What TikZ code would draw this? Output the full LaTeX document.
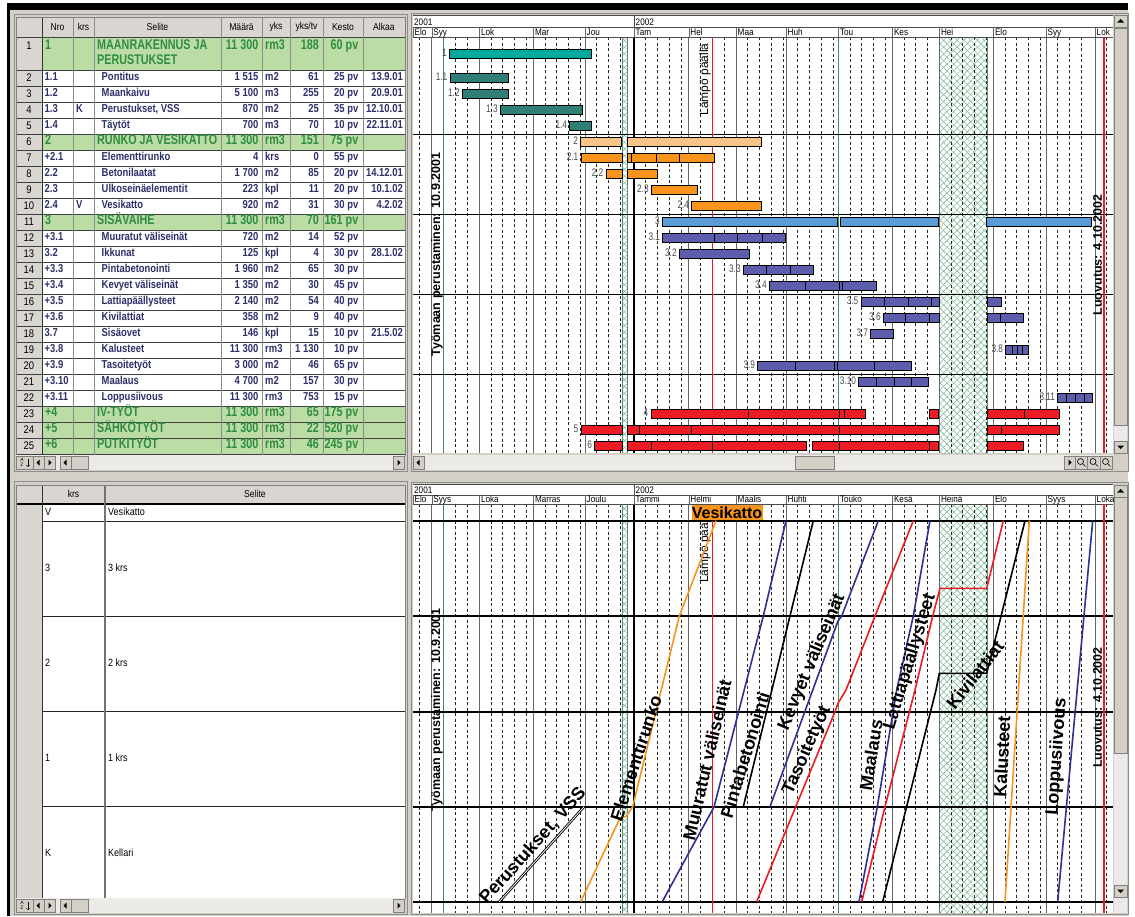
\documentclass[tikz,border=0pt]{standalone}
\usepackage{fontspec}
\setmainfont{Liberation Sans}
\newfontfamily\rowfont[FakeStretch=0.82]{Liberation Sans}
\newfontfamily\grpfont[FakeStretch=0.77]{Liberation Sans}
\newfontfamily\uifont[FakeStretch=0.86]{Liberation Sans}
\newfontfamily\lblfont[FakeStretch=0.75]{Liberation Sans}
\usepackage{xcolor}
\usepackage{tikz}
\usetikzlibrary{patterns.meta}

\definecolor{winbg}{HTML}{D4D0C8}
\definecolor{hdrgray}{HTML}{D9D6D1}
\definecolor{grpfill}{HTML}{BBDDA5}
\definecolor{grptext}{HTML}{2F8C3F}
\definecolor{rowtext}{HTML}{2D3068}
\definecolor{tealA}{HTML}{00A99D}
\definecolor{tealB}{HTML}{2F7F78}
\definecolor{orangeL}{HTML}{FBC58A}
\definecolor{orangeD}{HTML}{F7941D}
\definecolor{blueL}{HTML}{5B9BD5}
\definecolor{purpleB}{HTML}{5D5DAE}
\definecolor{redA}{HTML}{ED1C24}
\definecolor{greenA}{HTML}{3D8C5E}
\definecolor{hatchgreen}{HTML}{6DB088}
\definecolor{navyA}{HTML}{2E3192}

\tikzstyle{cell}=[inner sep=0pt, text=rowtext, font=\rowfont\bfseries\fontsize{11.5}{12}\selectfont]
\tikzstyle{grpcell}=[inner sep=0pt, text=grptext, font=\grpfont\bfseries\fontsize{14}{15}\selectfont]
\tikzstyle{hdr}=[inner sep=0pt, font=\uifont\fontsize{10}{11}\selectfont]
\tikzstyle{rownum}=[inner sep=0pt, font=\uifont\fontsize{11}{12}\selectfont]
\tikzstyle{plaintext}=[inner sep=0pt, anchor=mid west, font=\uifont\fontsize{10.5}{11}\selectfont]
\tikzstyle{monthlbl}=[inner sep=0pt, anchor=base west, font=\uifont\fontsize{9.5}{10}\selectfont]
\tikzstyle{gbar}=[draw=black, line width=0.9pt]
\tikzstyle{glabel}=[inner sep=0pt, anchor=mid east, text=black!70, font=\lblfont\fontsize{11}{11}\selectfont]
\tikzstyle{weekline}=[black!85, line width=0.6pt, dash pattern=on 3pt off 2.5pt]
\tikzstyle{monthline}=[black!60, line width=0.9pt]
\tikzstyle{floorline}=[black, line width=1.6pt]
\tikzstyle{phaseline}=[line width=1.6pt, line join=round]
\tikzstyle{phaselabel}=[inner sep=0pt, font=\bfseries\fontsize{18}{18}\selectfont]
\tikzstyle{milestone}=[inner sep=0pt, rotate=90, font=\bfseries\fontsize{12.5}{13}\selectfont]
\tikzstyle{heatlbl}=[inner sep=0pt, rotate=90, font=\fontsize{12}{12}\selectfont]
\tikzstyle{hatchA}=[pattern={Lines[angle=45,distance=4.8pt,line width=0.45pt]}, pattern color=hatchgreen]
\tikzstyle{hatchB}=[pattern={Lines[angle=-45,distance=4.8pt,line width=0.45pt]}, pattern color=hatchgreen]
\tikzstyle{btn}=[fill=winbg, draw=black!50, line width=0.6pt]
\tikzstyle{track}=[fill=winbg!45!white]

% gantt bars: row centre, start, end, colour, label
\newcount\lblno
\newcommand{\gbar}[5]{%
  \draw[gbar, fill=#4] (#2,{#1-4.5}) rectangle (#3,{#1+4.5});
  \global\advance\lblno by 1
  \node[glabel] (gl\the\lblno) at ({#2-2.5},#1) {#5};}
\newcommand{\gseg}[4]{\draw[gbar, fill=#4] (#2,{#1-4.5}) rectangle (#3,{#1+4.5});}
\newcommand{\gdiv}[2]{\draw[line width=0.9pt] (#2,{#1-4.5}) -- (#2,{#1+4.5});}

% scroll buttons
\newcommand{\lbtn}[2]{\draw[btn] (#1,#2) rectangle ++(11,13); \fill ({#1+3.5},{#2+6.5}) -- ++(3,-3) -- ++(0,6) -- cycle;}
\newcommand{\rbtn}[2]{\draw[btn] (#1,#2) rectangle ++(11,13); \fill ({#1+7.5},{#2+6.5}) -- ++(-3,-3) -- ++(0,6) -- cycle;}
\newcommand{\ubtn}[2]{\draw[btn] (#1,#2) rectangle ++(13,12); \fill ({#1+6.5},{#2+4}) -- ++(-3.5,3.5) -- ++(7,0) -- cycle;}
\newcommand{\dbtn}[2]{\draw[btn] (#1,#2) rectangle ++(13,12); \fill ({#1+6.5},{#2+8}) -- ++(-3.5,-3.5) -- ++(7,0) -- cycle;}

% time grid of a chart: top, bottom
\newcommand{\chartgrid}[2]{%
  \fill[white] (413,#1) rectangle (1113,#2);
  \foreach \ha/\hb in {622/627, 939.3/987} {
    \fill[hatchA] (\ha,#1) rectangle (\hb,#2);
    \fill[hatchB] (\ha,#1) rectangle (\hb,#2);
    \draw[hatchgreen!80!black, line width=0.7pt] (\ha,#1) -- (\ha,#2) (\hb,#1) -- (\hb,#2);}
  \draw[weekline] (419.3,#1) -- (419.3,#2);
  \foreach \ma/\mb in {431.7/479.3, 479.3/533.3, 533.3/585, 585/634, 634/688.7,
      688.7/736, 736/786, 786/838.3, 838.3/892.3, 892.3/939.3, 939.3/993.3,
      993.3/1046, 1046/1095, 1095/1113} {
    \foreach \i in {1,2,3,4} {
      \pgfmathsetmacro\wx{\ma+11.7*\i}
      \pgfmathtruncatemacro\wok{(\wx<\mb-3)}
      \ifnum\wok=1 \draw[weekline] (\wx,#1) -- (\wx,#2); \fi}}
  \foreach \mx in {431.7,479.3,533.3,585,688.7,736,786,838.3,892.3,939.3,993.3,1046,1095}
    \draw[monthline] (\mx,#1) -- (\mx,#2);
  \draw[black, line width=1.3pt] (634,#1) -- (634,#2);
  \draw[greenA, line width=1.5pt] (443.3,#1) -- (443.3,#2);
  \draw[greenA, line width=1.2pt] (838.3,#1) -- (838.3,#2);}

\begin{document}
\begin{tikzpicture}[x=1pt, y=-1pt]
  \useasboundingbox (0,0) rectangle (1135,916);
  % window
  \fill[white] (0,0) rectangle (1135,916);
  \fill[winbg] (10,10) rectangle (1128,916);
  \fill[black] (7,3) rectangle (1128,10);
  \fill[black] (7,3) rectangle (10,916);
  \draw[black!45] (14,14) rectangle (407,471);
  \draw[black!45] (411,13) rectangle (1128,471);
  \draw[black!45] (14,481) rectangle (407,914);
  \draw[black!45] (411,482) rectangle (1128,914);

  %%% task table
  \fill[white] (16,17) rectangle (405,455);
  \fill[hdrgray] (16,17) rectangle (405,37);
  \fill[hdrgray] (16,37) rectangle (42,455);
  \foreach \ta/\tb in {37/70,134/150,214/230,406/422,422/438,438/454}
    \fill[grpfill] (42,\ta) rectangle (405,\tb);
  \foreach \gy in {37,70,86,...,454}
    \draw[black!75, line width=0.7pt] (16,\gy) -- (405,\gy);
  \foreach \gx in {73,94,221,262,290,323,363}
    \draw[black!45, line width=0.7pt] (\gx,17) -- (\gx,455);
  \draw[black!80, line width=1pt] (42,17) -- (42,455);
  \draw[black!50] (16,17) rectangle (405,455);
  % header
  \foreach \hx/\htxt in {57.5/Nro, 83.5/krs, 157.5/Selite, 241.5/Määrä, 276/yks, 306.5/{yks/tv}, 343/Kesto, 384/Alkaa}
    \node[hdr] (h\hx) at (\hx,27) {\htxt};
  % row numbers
  \node[rownum] (rn1) at (29,46) {1};
  \foreach \r in {2,...,25} {
    \pgfmathsetmacro\cy{78+(\r-2)*16}
    \node[rownum] (rn\r) at (29,\cy) {\r};}
  % task rows
  \foreach \r/\nro/\krs/\sel/\maa/\yks/\ytv/\kes/\alk in {
      2/1.1/{}/Pontitus/1 515/m2/61/25 pv/13.9.01,
      3/1.2/{}/Maankaivu/5 100/m3/255/20 pv/20.9.01,
      4/1.3/K/{Perustukset, VSS}/870/m2/25/35 pv/12.10.01,
      5/1.4/{}/Täytöt/700/m3/70/10 pv/22.11.01,
      7/+2.1/{}/Elementtirunko/4/krs/0/55 pv/{},
      8/2.2/{}/Betonilaatat/1 700/m2/85/20 pv/14.12.01,
      9/2.3/{}/Ulkoseinäelementit/223/kpl/11/20 pv/10.1.02,
      10/2.4/V/Vesikatto/920/m2/31/30 pv/4.2.02,
      12/+3.1/{}/Muuratut väliseinät/720/m2/14/52 pv/{},
      13/3.2/{}/Ikkunat/125/kpl/4/30 pv/28.1.02,
      14/+3.3/{}/Pintabetonointi/1 960/m2/65/30 pv/{},
      15/+3.4/{}/Kevyet väliseinät/1 350/m2/30/45 pv/{},
      16/+3.5/{}/Lattiapäällysteet/2 140/m2/54/40 pv/{},
      17/+3.6/{}/Kivilattiat/358/m2/9/40 pv/{},
      18/3.7/{}/Sisäovet/146/kpl/15/10 pv/21.5.02,
      19/+3.8/{}/Kalusteet/11 300/rm3/1 130/10 pv/{},
      20/+3.9/{}/Tasoitetyöt/3 000/m2/46/65 pv/{},
      21/+3.10/{}/Maalaus/4 700/m2/157/30 pv/{},
      22/+3.11/{}/Loppusiivous/11 300/rm3/753/15 pv/{}} {
    \pgfmathsetmacro\cy{78+(\r-2)*16}
    \node[cell, anchor=mid west] (nro\r) at (44.5,\cy) {\nro};
    \node[cell, anchor=mid west] (krs\r) at (76,\cy) {\krs};
    \node[cell, anchor=mid west] (sel\r) at (101.5,\cy) {\sel};
    \node[cell, anchor=mid east] (maa\r) at (258.5,\cy) {\maa};
    \node[cell, anchor=mid west] (yks\r) at (265,\cy) {\yks};
    \node[cell, anchor=mid east] (ytv\r) at (319,\cy) {\ytv};
    \node[cell, anchor=mid east] (kes\r) at (358.5,\cy) {\kes};
    \node[cell, anchor=mid east] (alk\r) at (403,\cy) {\alk};}
  % group rows
  \node[grpcell, anchor=mid west] (nro1) at (45,47) {1};
  \node[grpcell, anchor=mid west] (sel1a) at (97,47) {MAANRAKENNUS JA};
  \node[grpcell, anchor=mid west] (sel1b) at (97,62) {PERUSTUKSET};
  \node[grpcell, anchor=mid east] (maa1) at (258.5,47) {11 300};
  \node[grpcell, anchor=mid west] (yks1) at (265,47) {rm3};
  \node[grpcell, anchor=mid east] (ytv1) at (319,47) {188};
  \node[grpcell, anchor=mid east] (kes1) at (358.5,47) {60 pv};
  \foreach \r/\cy/\nro/\sel/\ytv/\kes in {6/142/2/RUNKO JA VESIKATTO/151/75 pv,
      11/222/3/SISÄVAIHE/70/161 pv, 23/414/+4/IV-TYÖT/65/175 pv,
      24/430/+5/SÄHKÖTYÖT/22/520 pv, 25/446/+6/PUTKITYÖT/46/245 pv} {
    \node[grpcell, anchor=mid west] (nro\r) at (45,\cy) {\nro};
    \node[grpcell, anchor=mid west] (sel\r) at (97,\cy) {\sel};
    \node[grpcell, anchor=mid east] (maa\r) at (258.5,\cy) {11 300};
    \node[grpcell, anchor=mid west] (yks\r) at (265,\cy) {rm3};
    \node[grpcell, anchor=mid east] (ytv\r) at (319,\cy) {\ytv};
    \node[grpcell, anchor=mid east] (kes\r) at (358.5,\cy) {\kes};}
  % table scroll bar
  \fill[track] (16,455) rectangle (405,470);
  \draw[btn] (16,456) rectangle (33,469);
  \node[inner sep=0pt, align=center, font=\fontsize{5}{5}\selectfont] (sortA) at (22,462.5) {A\\Z};
  \draw[->, line width=0.5pt] (28,459) -- (28,467);
  \lbtn{33}{456} \rbtn{44}{456} \lbtn{60}{456}
  \draw[btn] (71,456) rectangle (88,469);
  \rbtn{393}{456}

  %%% gantt chart
  \fill[white] (413,15) rectangle (1113,37);
  \chartgrid{37}{453}
  \draw[black!70] (413,15) -- (1113,15) (413,27) -- (1113,27) (413,37) -- (1113,37);
  \draw[black!70] (634,15) -- (634,27);
  \node[monthlbl] (y01a) at (414,25.5) {2001};
  \node[monthlbl] (y02a) at (635.5,25.5) {2002};
  \foreach \mx/\mt in {413/Elo, 431.7/Syy, 479.3/Lok, 533.3/Mar, 585/Jou, 634/Tam, 688.7/Hel,
      736/Maa, 786/Huh, 838.3/Tou, 892.3/Kes, 939.3/Hei, 993.3/Elo, 1046/Syy, 1095/Lok} {
    \draw[black!60] (\mx,27) -- (\mx,37);
    \node[monthlbl] (ma\mx) at ({\mx+1.5},35.5) {\mt};}
  \foreach \hy in {134,214,294,374}
    \draw[black, line width=0.7pt] (413,\hy) -- (1113,\hy);
  \draw[redA, line width=1.5pt] (712.7,37) -- (712.7,453);
  \draw[redA, line width=1.5pt] (1104,37) -- (1104,453);
  \node[heatlbl] (heatA) at (705,79.5) {Lämpö päällä};
  \node[milestone] (startA) at (437,254.5) {Työmaan perustaminen: 10.9.2001};
  \node[milestone] (endA) at (1097.5,255) {Luovutus: 4.10.2002};
  % bars
  \gbar{53.5}{449.3}{591.7}{tealA}{1}
  \gbar{78}{450}{508.7}{tealB}{1.1}
  \gbar{94}{462.3}{508.7}{tealB}{1.2}
  \gbar{110}{500.3}{582.7}{tealB}{1.3}
  \gbar{126}{569.7}{591.7}{tealB}{1.4}
  \gbar{142}{580.7}{621.3}{orangeL}{2} \gseg{142}{627.3}{761.7}{orangeL}
  \gbar{158}{581}{622}{orangeD}{2.1} \gseg{158}{627.3}{714}{orangeD}
  \gdiv{158}{631.7} \gdiv{158}{656} \gdiv{158}{679.3}
  \gbar{174}{606}{622}{orangeD}{2.2} \gseg{174}{627.3}{657.7}{orangeD}
  \gbar{190}{651.3}{697.3}{orangeD}{2.3}
  \gbar{206}{691.7}{761.7}{orangeD}{2.4}
  \gbar{222}{662.3}{837.3}{blueL}{3} \gseg{222}{840}{938.3}{blueL} \gseg{222}{986.7}{1091.7}{blueL}
  \gbar{238}{662.7}{785.7}{purpleB}{3.1} \gdiv{238}{714.3} \gdiv{238}{737.7} \gdiv{238}{762.3}
  \gbar{254}{679.3}{749.3}{purpleB}{3.2}
  \gbar{270}{743.3}{813.3}{purpleB}{3.3} \gdiv{270}{766} \gdiv{270}{790.7}
  \gbar{286}{769.3}{876.7}{purpleB}{3.4} \gdiv{286}{805} \gdiv{286}{839.3} \gdiv{286}{842.7}
  \gbar{302}{861}{939}{purpleB}{3.5} \gdiv{302}{884} \gdiv{302}{908} \gdiv{302}{931.7}
  \gseg{302}{987.3}{1001.7}{purpleB}
  \gbar{318}{883.3}{939}{purpleB}{3.6} \gdiv{318}{905.7} \gdiv{318}{929}
  \gseg{318}{987.3}{1023.3}{purpleB} \gdiv{318}{1000.7}
  \gbar{334}{870.7}{893.3}{purpleB}{3.7}
  \gbar{350}{1005.7}{1028.3}{purpleB}{3.8} \gdiv{350}{1012} \gdiv{350}{1017.3} \gdiv{350}{1022.3}
  \gbar{366}{757.7}{911.7}{purpleB}{3.9} \gdiv{366}{795.7} \gdiv{366}{834} \gdiv{366}{837.3} \gdiv{366}{874.3}
  \gbar{382}{858.7}{928.3}{purpleB}{3.10} \gdiv{382}{876} \gdiv{382}{894} \gdiv{382}{911.7}
  \gbar{398}{1057.7}{1092.3}{purpleB}{3.11} \gdiv{398}{1066.7} \gdiv{398}{1075.3} \gdiv{398}{1084}
  \gbar{414}{651}{865.7}{redA}{4} \gdiv{414}{748.7} \gdiv{414}{839} \gdiv{414}{844.3}
  \gseg{414}{929.3}{938.7}{redA} \gseg{414}{987.3}{1059.3}{redA} \gdiv{414}{1024.3}
  \gbar{430}{581}{622}{redA}{5} \gseg{430}{627.3}{938.7}{redA}
  \gdiv{430}{639.3} \gdiv{430}{691} \gdiv{430}{839}
  \gseg{430}{987.3}{1059.3}{redA} \gdiv{430}{1001}
  \gbar{446}{594.7}{622}{redA}{6} \gseg{446}{627.3}{806.7}{redA} \gdiv{446}{651} \gdiv{446}{712.7}
  \gseg{446}{812.3}{938.7}{redA} \gdiv{446}{839} \gdiv{446}{929.3}
  \gseg{446}{987.3}{1023.3}{redA}
  % gantt scroll bars
  \fill[track] (413,455) rectangle (1113,470);
  \lbtn{413}{456}
  \draw[btn] (795,456) rectangle (834,469);
  \rbtn{1064}{456}
  \foreach \zx in {1075,1087.5,1100} {
    \draw[btn] (\zx,456) rectangle ++(12.5,13);
    \draw[line width=0.6pt] ({\zx+5.5},461.5) circle (3) ({\zx+7.7},463.7) -- ({\zx+10.5},466.5);}
  \fill[track] (1114,15) rectangle (1127,453);
  \ubtn{1114}{15}
  \draw[btn] (1114,28) rectangle (1127,425);
  \dbtn{1114}{441}

  %%% floor table
  \fill[white] (16,485) rectangle (405,898);
  \fill[hdrgray] (16,485) rectangle (405,503);
  \fill[hdrgray] (16,503) rectangle (42,898);
  \draw[black, line width=1.5pt] (16,504) -- (405,504);
  \foreach \gy in {521,616,711.7,806.7}
    \draw[black!85, line width=0.7pt] (42,\gy) -- (405,\gy);
  \draw[black!55, line width=1.2pt] (105,485) -- (105,898);
  \draw[black!80, line width=1pt] (42,485) -- (42,898);
  \draw[black!50] (16,485) rectangle (405,898);
  \node[hdr] (krshead) at (73.5,494) {krs};
  \node[hdr] (selhead) at (255,494) {Selite};
  \foreach \fy/\fk/\fs in {513/V/Vesikatto, 569/3/3 krs, 664/2/2 krs, 758.5/1/1 krs, 854/K/Kellari} {
    \node[plaintext] (fk\fk) at (45,\fy) {\fk};
    \node[plaintext] (fs\fk) at (108,\fy) {\fs};}
  \fill[track] (16,898) rectangle (405,913);
  \draw[btn] (16,899) rectangle (33,912);
  \node[inner sep=0pt, align=center, font=\fontsize{5}{5}\selectfont] (sortB) at (22,905.5) {A\\Z};
  \draw[->, line width=0.5pt] (28,902) -- (28,910);
  \lbtn{33}{899} \rbtn{44}{899} \lbtn{60}{899}
  \draw[btn] (71,899) rectangle (88,912);
  \rbtn{393}{899}

  %%% line of balance chart
  \fill[white] (413,484) rectangle (1113,504);
  \chartgrid{504}{913}
  \draw[black!70] (413,484) -- (1113,484) (413,495) -- (1113,495) (413,504) -- (1113,504);
  \draw[black!70] (634,484) -- (634,495);
  \node[monthlbl] (y01b) at (414,493.5) {2001};
  \node[monthlbl] (y02b) at (635.5,493.5) {2002};
  \foreach \mx/\mt in {413/Elo, 431.7/Syys, 479.3/Loka, 533.3/Marras, 585/Joulu, 634/Tammi, 688.7/Helmi,
      736/Maalis, 786/Huhti, 838.3/Touko, 892.3/Kesä, 939.3/Heinä, 993.3/Elo, 1046/Syys, 1095/Loka} {
    \draw[black!60] (\mx,495) -- (\mx,504);
    \node[monthlbl] (mb\mx) at ({\mx+1.5},502.5) {\mt};}
  \foreach \fy in {520.7,616,711.7,806.7,901.7}
    \draw[floorline] (413,\fy) -- (1113,\fy);
  \draw[redA, line width=1.5pt] (712.7,520.7) -- (712.7,913);
  \draw[redA, line width=1.5pt] (1104,504) -- (1104,913);
  \node[heatlbl, anchor=west] (heatB) at (705,583) {Lämpö päällä};
  \node[milestone] (startB) at (437,710) {Työmaan perustaminen: 10.9.2001};
  \node[milestone] (endB) at (1097.5,707.5) {Luovutus: 4.10.2002};
  % work lines
  \draw[phaseline, black, double=white, double distance=0.8pt, line width=0.9pt] (499.3,901.7) -- (584,806.7);
  \draw[phaseline, orangeD] (580.7,901.7) -- (620,818) -- (626,816.5) -- (632.7,806.7) -- (679.3,616) -- (716,520.7);
  \draw[phaseline, navyA] (662.3,901.7) -- (686.7,856.7) -- (714,807) -- (763.3,616) -- (786,520.7);
  \draw[phaseline, black] (743.3,806.7) -- (813.3,520.7);
  \draw[phaseline, navyA] (770,806.7) -- (838,621) -- (841.7,616) -- (878.3,520.7);
  \draw[phaseline, redA] (756.7,901.7) -- (795.7,806.7) -- (835,711.7) -- (838,703.3) -- (846,690) -- (875,616) -- (913.3,520.7);
  \draw[phaseline, navyA] (859,901.7) -- (877.3,806.7) -- (896.7,690) -- (913.3,616) -- (930,520.7);
  \draw[phaseline, redA] (861.7,901.7) -- (885,806.7) -- (915,690) -- (932.7,616) -- (940,588.3) -- (986.7,588.3) -- (1003.3,520.7);
  \draw[phaseline, black] (882.7,901.7) -- (936,690) -- (939.3,673.3) -- (986.7,673.3) -- (1025,520.7);
  \draw[phaseline, orangeD] (1005,901.7) -- (1029.3,520.7);
  \draw[phaseline, navyA] (1057.7,901.7) -- (1092.7,520.7);
  % work labels
  \node[phaselabel, rotate=48] (lPer) at (533,846) {Perustukset, VSS};
  \node[phaselabel, rotate=72] (lEle) at (636,758) {Elementtirunko};
  \node[phaselabel, rotate=77] (lMuu) at (707,760) {Muuratut väliseinät};
  \node[phaselabel, rotate=73] (lPin) at (745,755) {Pintabetonointi};
  \node[phaselabel, rotate=67] (lKev) at (812,662) {Kevyet väliseinät};
  \node[phaselabel, rotate=66] (lTas) at (807,750) {Tasoitetyöt};
  \node[phaselabel, rotate=81] (lMaa) at (871,755) {Maalaus};
  \node[phaselabel, rotate=73] (lLat) at (910,662) {Lattiapäällysteet};
  \node[phaselabel, rotate=52] (lKiv) at (975,675) {Kivilattiat};
  \node[phaselabel, rotate=87] (lKal) at (1002,757) {Kalusteet};
  \node[phaselabel, rotate=86] (lLop) at (1057,757) {Loppusiivous};
  \node[fill=orangeD, inner sep=0pt, minimum width=71pt, minimum height=15pt,
        font=\bfseries\fontsize{16}{16}\selectfont] (roof) at (727,512.5) {Vesikatto};
  % chart scroll bar
  \fill[track] (1114,485) rectangle (1127,913);
  \ubtn{1114}{485}
  \draw[btn] (1114,497) rectangle (1127,753);
  \dbtn{1114}{885}
\end{tikzpicture}
\end{document}
